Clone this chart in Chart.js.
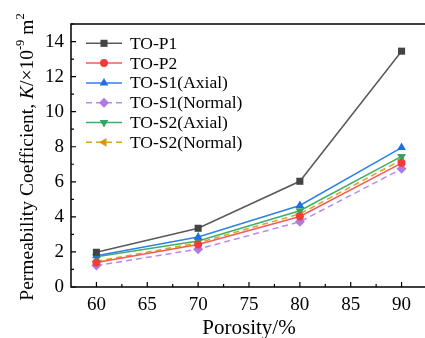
<!DOCTYPE html>
<html>
<head>
<meta charset="utf-8">
<script src="https://cdn.jsdelivr.net/npm/chart.js@4.4.1/dist/chart.umd.min.js"></script>
<style>
  html, body { margin: 0; padding: 0; overflow: hidden; background: #fff; }
</style>
</head>
<body>
<canvas id="permChart" width="432" height="338"></canvas>
<script>
var porosity = [60, 70, 80, 90];
var toP1 = [1.98, 3.35, 6.03, 13.45];
var toP2 = [1.40, 2.42, 4.02, 7.07];
var toS1Axial = [1.78, 2.85, 4.65, 7.95];
var toS1Normal = [1.22, 2.16, 3.72, 6.74];
var toS2Axial = [1.72, 2.62, 4.35, 7.45];
var toS2Normal = [1.46, 2.52, 4.17, 7.25];

var xTicks = [60, 65, 70, 75, 80, 85, 90];
var yTicks = [0, 2, 4, 6, 8, 10, 12, 14];

var serif = "'Liberation Serif', 'Times New Roman', serif";

function pts(vals) {
    return porosity.map(function (p, i) { return { x: p, y: vals[i] }; });
}

function series(label, vals, line, mark, style, rot, radius, dash) {
    return {
        label: label,
        data: pts(vals),
        borderColor: line,
        backgroundColor: mark,
        pointBackgroundColor: mark,
        pointBorderColor: mark,
        pointBorderWidth: 0,
        pointStyle: style,
        pointRotation: rot,
        pointRadius: radius,
        borderWidth: 1.5,
        borderDash: dash || [],
        tension: 0
    };
}

// frame with inward ticks, rotated y title and legend inside the plot
var decor = {
    id: 'decor',
    afterDraw: function (chart) {
        var ctx = chart.ctx, a = chart.chartArea;
        var xs = chart.scales.x, ys = chart.scales.y;
        ctx.save();
        ctx.strokeStyle = '#000';
        ctx.lineWidth = 1.5;
        ctx.strokeRect(a.left, a.top, a.right - a.left, a.bottom - a.top);

        ctx.lineWidth = 1.2;
        ctx.beginPath();
        for (var v = 0; v <= 15; v++) {
            var py = ys.getPixelForValue(v);
            var len = v % 2 === 0 ? 5 : 3;
            ctx.moveTo(a.left, py);
            ctx.lineTo(a.left + len, py);
        }
        for (var x = 60; x <= 90; x += 2.5) {
            var px = xs.getPixelForValue(x);
            var l2 = x % 5 === 0 ? 5 : 3;
            ctx.moveTo(px, a.bottom);
            ctx.lineTo(px, a.bottom - l2);
        }
        ctx.stroke();

        // y axis title
        var parts = [
            { t: 'Permeability Coefficient, ', f: '19.5px ' + serif, dy: 0 },
            { t: 'K', f: 'italic 19.5px ' + serif, dy: 0 },
            { t: '/\u00d710', f: '19.5px ' + serif, dy: 0 },
            { t: '-9', f: '12.5px ' + serif, dy: -7 },
            { t: ' m', f: '19.5px ' + serif, dy: 0 },
            { t: '2', f: '12.5px ' + serif, dy: -7 }
        ];
        var total = 0;
        parts.forEach(function (p) { ctx.font = p.f; p.w = ctx.measureText(p.t).width; total += p.w; });
        ctx.save();
        ctx.translate(28, 157);
        ctx.rotate(-Math.PI / 2);
        ctx.fillStyle = '#000';
        ctx.textBaseline = 'middle';
        ctx.textAlign = 'left';
        var cx = -total / 2;
        parts.forEach(function (p) {
            ctx.font = p.f;
            ctx.fillText(p.t, cx, p.dy);
            cx += p.w;
        });
        ctx.restore();

        // legend
        chart.data.datasets.forEach(function (ds, i) {
            var y = 43.3 + 19.8 * i;
            ctx.setLineDash(ds.borderDash);
            ctx.strokeStyle = ds.borderColor;
            ctx.lineWidth = 1.5;
            ctx.beginPath();
            ctx.moveTo(86, y);
            ctx.lineTo(122, y);
            ctx.stroke();
            ctx.setLineDash([]);
            ctx.fillStyle = ds.pointBackgroundColor;
            ctx.strokeStyle = ds.pointBackgroundColor;
            Chart.helpers.drawPoint(ctx, {
                pointStyle: ds.pointStyle,
                rotation: ds.pointRotation,
                radius: ds.pointRadius,
                borderWidth: 0
            }, 104, y);
            ctx.fillStyle = '#000';
            ctx.font = '17.5px ' + serif;
            ctx.textBaseline = 'middle';
            ctx.textAlign = 'left';
            ctx.fillText(ds.label, 130, y + 1);
        });
        ctx.restore();
    }
};

var ctx = document.getElementById('permChart').getContext('2d');

var myChart = new Chart(ctx, {
    type: 'line',
    data: {
        datasets: [
            series('TO-P1', toP1, '#5a5a5a', '#444444', 'rect', 0, 5),
            series('TO-P2', toP2, '#f45a5a', '#f03c3c', 'circle', 0, 4),
            series('TO-S1(Axial)', toS1Axial, '#2f80e8', '#1f6fdc', 'triangle', 0, 5),
            series('TO-S1(Normal)', toS1Normal, '#bb88ee', '#b07ae0', 'rectRot', 0, 5, [6, 4]),
            series('TO-S2(Axial)', toS2Axial, '#3fae6c', '#36a460', 'triangle', 180, 5),
            series('TO-S2(Normal)', toS2Normal, '#d8a520', '#d09a10', 'triangle', -90, 5, [6, 4])
        ]
    },
    options: {
        responsive: false,
        animation: false,
        layout: { padding: { left: 0, top: 24, right: 3, bottom: 0 } },
        plugins: {
            legend: { display: false },
            tooltip: { enabled: false }
        },
        scales: {
            x: {
                type: 'linear',
                min: 57.5,
                max: 92.5,
                afterBuildTicks: function (scale) {
                    scale.ticks = xTicks.map(function (v) { return { value: v }; });
                },
                afterFit: function (scale) { scale.height = 51; },
                grid: { display: false, drawTicks: false },
                border: { display: false },
                ticks: {
                    color: '#000',
                    padding: 7,
                    maxRotation: 0,
                    font: { family: serif, size: 19 }
                },
                title: {
                    display: true,
                    text: 'Porosity/%',
                    color: '#000',
                    padding: { top: 0, bottom: -3 },
                    font: { family: serif, size: 21 }
                }
            },
            y: {
                min: 0,
                max: 15,
                afterBuildTicks: function (scale) {
                    scale.ticks = yTicks.map(function (v) { return { value: v }; });
                },
                afterFit: function (scale) { scale.width = 71; },
                grid: { display: false, drawTicks: false },
                border: { display: false },
                ticks: {
                    color: '#000',
                    padding: 7,
                    font: { family: serif, size: 19 }
                }
            }
        }
    },
    plugins: [decor]
});
</script>
</body>
</html>
